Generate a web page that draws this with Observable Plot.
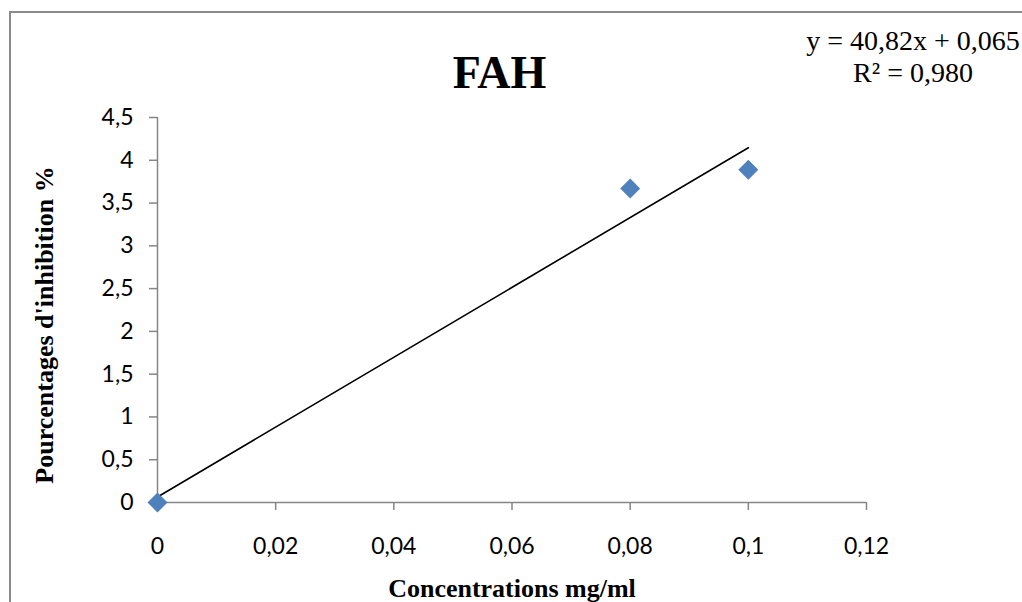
<!DOCTYPE html>
<html>
<head>
<meta charset="utf-8">
<script src="https://cdn.jsdelivr.net/npm/d3@7"></script>
<script src="https://cdn.jsdelivr.net/npm/@observablehq/plot@0.6"></script>
<style>
  html, body { margin: 0; padding: 0; background: #fff; overflow: hidden; }
  #wrap { position: relative; width: 1022px; height: 602px; }
  #frame { position: absolute; left: 9px; top: 11px; width: 1100px; height: 700px; border: 2px solid #8a8a8a; box-sizing: border-box; }
  #chart { position: absolute; left: 0; top: 0; }
</style>
</head>
<body>
<div id="wrap"><div id="frame"></div><div id="chart"></div></div>
<script>
// Data
const concentrations = [0, 0.08, 0.1];
const inhibition = [0, 3.67, 3.89];
const xTicks = [0, 0.02, 0.04, 0.06, 0.08, 0.1, 0.12];
const yTicks = [0, 0.5, 1, 1.5, 2, 2.5, 3, 3.5, 4, 4.5];
const trendSlope = 40.82;
const trendIntercept = 0.065;
const trendX = [0, 0.1];
const titleText = "FAH";
const xLabel = "Concentrations mg/ml";
const yLabel = "Pourcentages d'inhibition %";
const equationLines = ["y = 40,82x + 0,065", "R² = 0,980"];

const points = concentrations.map((c, i) => ({x: c, y: inhibition[i]}));
const trend = trendX.map(x => ({x, y: trendSlope * x + trendIntercept}));
const fmt = d => String(d).replace(".", ",");
const gray = "#868686";

const plot = Plot.plot({
  width: 1022,
  height: 602,
  marginLeft: 157,
  marginRight: 156,
  marginTop: 117,
  marginBottom: 100,
  style: {background: "transparent", fontFamily: "Lato, 'Open Sans', sans-serif", color: "black"},
  x: {domain: [0, 0.12]},
  y: {domain: [0, 4.5]},
  marks: [
    Plot.axisX({ticks: xTicks, tickSize: 8, tickPadding: 27, tickFormat: fmt, fontSize: 23, stroke: gray, strokeWidth: 1.5, fill: "black", label: null}),
    Plot.axisY({ticks: yTicks, tickSize: 8, tickPadding: 16, tickFormat: fmt, fontSize: 23, stroke: gray, strokeWidth: 1.5, fill: "black", label: null}),
    Plot.ruleY([0], {stroke: gray, strokeWidth: 1.5}),
    Plot.ruleX([0], {stroke: gray, strokeWidth: 1.5}),
    Plot.line(trend, {x: "x", y: "y", stroke: "black", strokeWidth: 1.6}),
    Plot.dot(points, {x: "x", y: "y", symbol: "diamond2", r: 9, fill: "#4F81BD", stroke: "none"})
  ]
});
document.getElementById("chart").appendChild(plot);

const svg = d3.select(plot);
const serif = "'Liberation Serif', 'Times New Roman', serif";
svg.append("text").text(titleText)
  .attr("x", 499.5).attr("y", 88).attr("text-anchor", "middle")
  .attr("font-family", serif).attr("font-weight", "bold").attr("font-size", 46).attr("fill", "black");
svg.append("text").text(xLabel)
  .attr("x", 512).attr("y", 597).attr("text-anchor", "middle")
  .attr("font-family", serif).attr("font-weight", "bold").attr("font-size", 26).attr("fill", "black");
svg.append("text").text(yLabel)
  .attr("transform", "translate(53,325) rotate(-90)").attr("text-anchor", "middle")
  .attr("font-family", serif).attr("font-weight", "bold").attr("font-size", 26).attr("fill", "black");
equationLines.forEach((t, i) => {
  svg.append("text").text(t)
    .attr("x", 913).attr("y", 50 + i * 32).attr("text-anchor", "middle")
    .attr("font-family", serif).attr("font-size", 28).attr("fill", "black");
});
</script>
</body>
</html>
